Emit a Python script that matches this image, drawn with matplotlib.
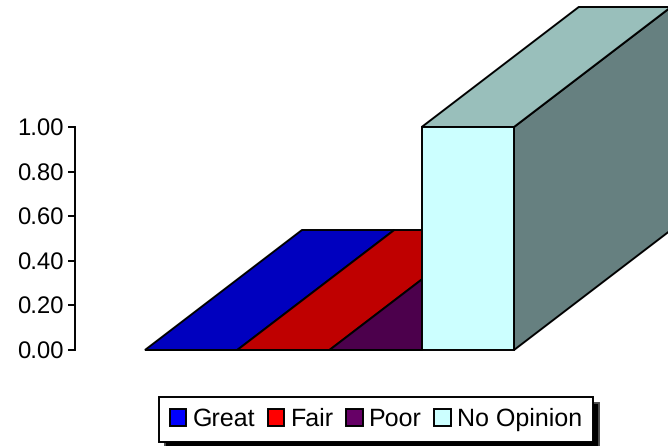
import matplotlib
matplotlib.use('Agg')
import matplotlib.pyplot as plt
from matplotlib.patches import Polygon, Patch

categories = ['Great', 'Fair', 'Poor', 'No Opinion']
values = [0.0, 0.0, 0.0, 1.0]
front_colors = ['#0000FF', '#FF0000', '#660066', '#CCFFFF']
top_colors = ['#0000BF', '#BF0000', '#4C004C', '#99BFBB']
side_colors = ['#000080', '#800000', '#330033', '#668080']
tick_vals = [0.0, 0.2, 0.4, 0.6, 0.8, 1.0]

W, H = 668, 446
# pixels per unit, and where (0,0) sits in the picture
x0, y0 = 145.0, 350.0
xunit = (514.0 - 145.0) / 4
yunit = 223.0
depth_x = 157.0 / xunit
depth_y = 120.0 / yunit

plt.rcParams['font.family'] = ['Liberation Sans', 'DejaVu Sans']
plt.rcParams['text.hinting'] = 'no_hinting'
fig = plt.figure(figsize=(W / 100, H / 100), dpi=100)
ax = fig.add_axes([0, 0, 1, 1])
ax.set_xlim(-x0 / xunit, (W - x0) / xunit)
ax.set_ylim(-(H - y0) / yunit, y0 / yunit)
ax.patch.set_visible(False)

for i, v in enumerate(values):
    l, r = i, i + 1
    top = [(l, v), (r, v), (r + depth_x, v + depth_y), (l + depth_x, v + depth_y)]
    side = [(r, 0), (r + depth_x, depth_y), (r + depth_x, v + depth_y), (r, v)]
    front = [(l, 0), (r, 0), (r, v), (l, v)]
    for pts, c in ((side, side_colors[i]), (top, top_colors[i]), (front, front_colors[i])):
        ax.add_patch(Polygon(pts, closed=True, facecolor=c, edgecolor='black',
                             linewidth=1.4, joinstyle='miter', zorder=2 + i))

for s in ('top', 'right', 'bottom'):
    ax.spines[s].set_visible(False)
ax.spines['left'].set_position(('data', (75 - x0) / xunit))
ax.spines['left'].set_bounds(0, 1)
ax.spines['left'].set_linewidth(1.4)
ax.set_xticks([])
ax.set_yticks(tick_vals)
ax.set_yticklabels(['%.2f' % t for t in tick_vals], fontsize=17.2, color='black')
ax.tick_params(axis='y', length=5, width=1.4, pad=3)

handles = [Patch(facecolor=c, edgecolor='black', linewidth=1.4) for c in front_colors]
leg = ax.legend(handles, categories, loc='center', ncol=4,
                bbox_to_anchor=(376 / W, 1 - 419.5 / H), bbox_transform=fig.transFigure,
                fontsize=18, frameon=True, fancybox=False, framealpha=1,
                edgecolor='black', handlelength=0.66, handleheight=0.66,
                handletextpad=0.25, columnspacing=0.5, borderpad=0.43,
                borderaxespad=0,
                shadow={'ox': 4.3, 'oy': -4.3, 'facecolor': 'black', 'alpha': 1})
leg.get_frame().set_linewidth(1.4)

fig.savefig('out.png', dpi=100)
